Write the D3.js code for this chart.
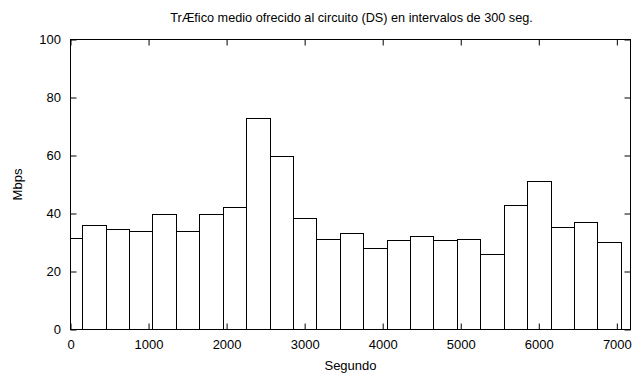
<!DOCTYPE html>
<html>
<head>
<meta charset="utf-8">
<script src="https://cdn.jsdelivr.net/npm/d3@7"></script>
<style>
  html, body { margin: 0; padding: 0; background: #fff; }
  svg { display: block; }
  text { font-family: "Liberation Sans", Arial, sans-serif; fill: #000; }
</style>
</head>
<body>
<svg id="chart" width="634" height="379"></svg>
<script>
// Data: mean traffic (Mbps) per 300 s interval, bars centred at interval start
const intervalStart = [0, 300, 600, 900, 1200, 1500, 1800, 2100, 2400, 2700, 3000, 3300,
                       3600, 3900, 4200, 4500, 4800, 5100, 5400, 5700, 6000, 6300, 6600, 6900];
const mbps = [31.6, 35.9, 34.8, 33.9, 40.0, 34.1, 39.8, 42.2, 73.1, 60.0, 38.4, 31.3,
              33.4, 28.1, 30.7, 32.2, 31.0, 31.2, 26.0, 43.1, 51.3, 35.2, 37.0, 30.0];
const barWidthSec = 300;
const xTicks = [0, 1000, 2000, 3000, 4000, 5000, 6000, 7000];
const yTicks = [0, 20, 40, 60, 80, 100];
const title = "TrÆfico medio ofrecido al circuito (DS) en intervalos de 300 seg.";
const xLabel = "Segundo";
const yLabel = "Mbps";

const L = 70.5, R = 630.5, T = 39.5, B = 329.5;
const svg = d3.select("#chart");

const x = d3.scaleLinear().domain([0, 7175]).range([L, R]);
const y = d3.scaleLinear().domain([0, 100]).range([B, T]);

// clip for bars
svg.append("clipPath").attr("id", "plotclip")
  .append("rect").attr("x", L).attr("y", T).attr("width", R - L).attr("height", B - T);

// bars
svg.append("g").attr("clip-path", "url(#plotclip)")
  .selectAll("rect").data(mbps).join("rect")
  .attr("x", (d, i) => Math.round(x(intervalStart[i] - barWidthSec / 2)) + 0.5)
  .attr("width", (d, i) => Math.round(x(intervalStart[i] + barWidthSec / 2)) - Math.round(x(intervalStart[i] - barWidthSec / 2)))
  .attr("y", d => Math.round(y(d)) + 0.5)
  .attr("height", d => B - (Math.round(y(d)) + 0.5))
  .attr("fill", "#fff")
  .attr("stroke", "#000")
  .attr("stroke-width", 1);

// axes with inward ticks
function styleAxis(g) {
  g.select(".domain").remove();
  g.selectAll(".tick line").attr("stroke", "#000");
  g.selectAll("text").style("font-size", "13px").attr("fill", "#000");
}
svg.append("g").attr("transform", `translate(0,${B})`)
  .call(d3.axisBottom(x).tickValues(xTicks).tickSize(-6).tickPadding(10).tickFormat(d3.format("d")))
  .call(styleAxis);
svg.append("g").attr("transform", `translate(0,${T})`)
  .call(d3.axisTop(x).tickValues(xTicks).tickSize(-6).tickFormat(""))
  .call(styleAxis);
svg.append("g").attr("transform", `translate(${L},0)`)
  .call(d3.axisLeft(y).tickValues(yTicks).tickSize(-6).tickPadding(9.5).tickFormat(d3.format("d")))
  .call(styleAxis);
svg.append("g").attr("transform", `translate(${R},0)`)
  .call(d3.axisRight(y).tickValues(yTicks).tickSize(-6).tickFormat(""))
  .call(styleAxis);

// frame
svg.append("rect").attr("x", L).attr("y", T).attr("width", R - L).attr("height", B - T)
  .attr("fill", "none").attr("stroke", "#000").attr("stroke-width", 1);

// title and labels
svg.append("text").attr("x", (L + R) / 2 + 1).attr("y", 21.5).attr("text-anchor", "middle")
  .style("font-size", "12.7px").text(title);
svg.append("text").attr("x", (L + R) / 2).attr("y", 370).attr("text-anchor", "middle")
  .style("font-size", "13px").text(xLabel);
svg.append("text").attr("transform", `translate(22,${(T + B) / 2}) rotate(-90)`)
  .attr("text-anchor", "middle").style("font-size", "13px").text(yLabel);
</script>
</body>
</html>
